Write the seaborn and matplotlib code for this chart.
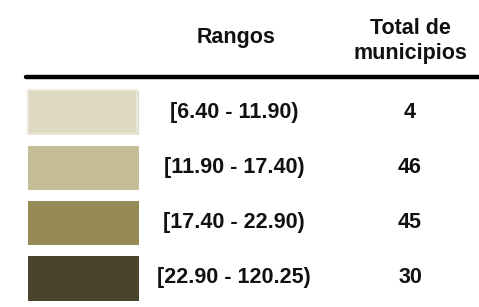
import matplotlib
matplotlib.use("Agg")
import matplotlib.pyplot as plt
import matplotlib.transforms as mtransforms
from matplotlib.colors import ListedColormap
from matplotlib.patches import Rectangle
import numpy as np
import seaborn as sns

# ---- data ----
ranges = ["[6.40 - 11.90)", "[11.90 - 17.40)", "[17.40 - 22.90)", "[22.90 - 120.25)"]
counts = [4, 46, 45, 30]
colors = ["#DDD9C3", "#C5BD96", "#968B56", "#4A442D"]
header_range = "Rangos"
header_count = "Total de\nmunicipios"

sns.set_theme(style="white")
plt.rcParams['font.family'] = ['Liberation Sans', 'DejaVu Sans']

W, H = 479, 307
fig = plt.figure(figsize=(W / 100, H / 100), dpi=100)
fig.patch.set_facecolor("white")

# swatch axes (pixel layout)
x0, x1 = 21.5, 143.5
y0, y1 = 84.5, 305.5
ax = fig.add_axes([x0 / W, (H - y1) / H, (x1 - x0) / W, (y1 - y0) / H])
data = np.arange(len(ranges)).reshape(-1, 1)
sns.heatmap(data, ax=ax, cmap=ListedColormap(colors), cbar=False,
            linewidths=6.5, linecolor="white", xticklabels=False, yticklabels=False,
            vmin=-0.5, vmax=len(colors) - 0.5)
ax.set_xlabel("")
ax.set_ylabel("")
for s in ax.spines.values():
    s.set_visible(False)

# light outline on the first swatch (as in the reference)
ax.add_patch(Rectangle((0.055, 0.1), 0.89, 0.79, fill=False,
                       edgecolor="#EAE7DA", linewidth=1.4, zorder=5))

# blended transform: x in figure pixels (from left), y in heatmap rows
px = mtransforms.Affine2D().scale(1 / W, 1) + fig.transFigure
trans = mtransforms.blended_transform_factory(px, ax.transData)

fs = 15.5
for i, (r, c) in enumerate(zip(ranges, counts)):
    ax.text(234, i + 0.5, r, transform=trans, ha="center", va="center",
            fontsize=fs, fontweight="bold", color="#111111", clip_on=False)
    ax.text(410, i + 0.5, str(c), transform=trans, ha="center", va="center",
            fontsize=fs, fontweight="bold", color="#111111", clip_on=False)

# headers
fig.text(236 / W, 1 - 37 / H, header_range, ha="center", va="center",
         fontsize=fs, fontweight="bold", color="#111111")
fig.text(410 / W, 1 - 41 / H, header_count, ha="center", va="center",
         fontsize=fs, fontweight="bold", color="#111111", linespacing=1.25)

# header rule
fig.add_artist(plt.Line2D([26 / W, 1.0], [1 - 77 / H, 1 - 77 / H],
                          transform=fig.transFigure, color="black", linewidth=3.2))

fig.savefig("out.png", dpi=100, facecolor="white")
